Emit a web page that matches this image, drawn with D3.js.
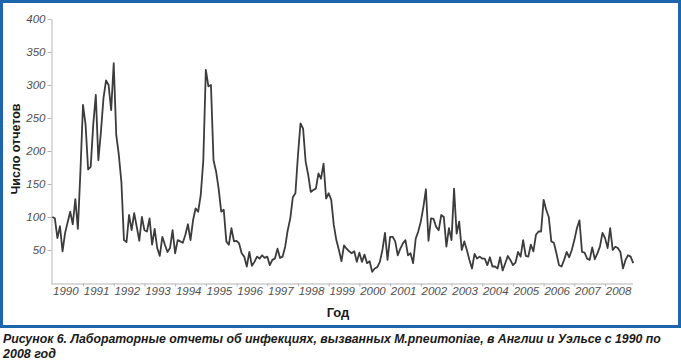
<!DOCTYPE html>
<html><head><meta charset="utf-8">
<script src="https://cdn.jsdelivr.net/npm/d3@7/dist/d3.min.js"></script>
<style>body{margin:0;background:#fff}svg{display:block}</style>
</head><body><svg id="c" width="681" height="360"></svg>
<script>
// Year tick labels (monthly data Jan 1990 .. Dec 2008)
const years = [1990,1991,1992,1993,1994,1995,1996,1997,1998,1999,2000,2001,2002,2003,2004,2005,2006,2007,2008];
const yTicks = [50,100,150,200,250,300,350,400];
const reports = [
 100,98,68,86,48,76,92,108,89,127,82,170,
 270,240,172,176,240,285,186,229,280,307,300,262,
 333,224,194,153,65,62,103,80,106,85,64,100,
 80,78,98,58,82,53,41,70,58,47,53,80,
 45,65,63,61,73,89,65,95,113,108,133,185,
 323,298,300,186,169,143,108,111,63,58,83,63,
 64,60,45,40,25,47,26,32,40,37,42,38,
 40,27,35,37,52,38,40,55,80,98,130,136,
 194,242,234,184,164,138,141,143,166,158,181,128,
 136,126,88,65,50,33,57,52,48,45,48,32,
 46,32,43,30,33,17,22,24,32,50,76,35,
 70,70,63,42,52,60,65,42,45,30,67,78,
 93,115,142,64,98,97,85,80,103,100,55,83,
 65,143,75,93,50,63,50,35,22,44,37,40,
 37,37,27,39,25,25,22,39,19,30,41,35,
 27,31,47,40,65,41,40,58,48,73,78,78,
 126,111,100,63,61,45,27,25,35,47,39,50,
 65,83,95,47,46,37,35,54,36,45,55,76,
 68,53,83,50,55,53,47,22,35,42,40,30
];
const yTitle = "Число отчетов";
const xTitle = "Год";
const caption1 = "Рисунок 6. Лабораторные отчеты об инфекциях, вызванных M.pneumoniae, в Англии и Уэльсе с 1990 по";
const caption2 = "2008 год";

const svg = d3.select("#c");
const FONT = "'Liberation Sans', Arial, sans-serif";

svg.append("rect").attr("x",1.5).attr("y",1.5).attr("width",678).attr("height",325)
  .attr("fill","#fff").attr("stroke","#1d66ad").attr("stroke-width",3);

const x = d3.scaleLinear().domain([0, reports.length - 1]).range([52.3, 633.2]);
const y = d3.scaleLinear().domain([0, 400]).range([283, 19]);

// Y axis
const gy = svg.append("g").attr("transform","translate(51.5,0)")
  .call(d3.axisLeft(y).tickValues(yTicks).tickSize(4).tickSizeOuter(0).tickPadding(2));
gy.select(".domain").attr("stroke","#b5b5b5");
gy.selectAll(".tick line").attr("stroke","#b5b5b5");
gy.selectAll(".tick text").attr("font-family",FONT).attr("font-size",11.5)
  .attr("font-style","italic").attr("fill","#505050");

// X axis (ticks at year boundaries)
const boundaries = years.slice(1).map(yr => (yr - years[0]) * 12);
const gx = svg.append("g").attr("transform","translate(0,283.5)")
  .call(d3.axisBottom(x).tickValues(boundaries).tickFormat("").tickSize(3).tickSizeOuter(0));
gx.select(".domain").attr("stroke","#b5b5b5").attr("d","M51,0.5H633");
gx.selectAll(".tick line").attr("stroke","#b5b5b5");

svg.append("g").selectAll("text").data(years).join("text")
  .attr("x", yr => x((yr - years[0]) * 12 + 5.3))
  .attr("y", 295)
  .attr("text-anchor","middle")
  .attr("font-family",FONT).attr("font-size",11.5).attr("font-style","italic")
  .attr("fill","#505050")
  .text(d => d);

// line
svg.append("path").datum(reports)
  .attr("fill","none").attr("stroke","#3c3c3c").attr("stroke-width",1.8)
  .attr("stroke-linejoin","round")
  .attr("d", d3.line().x((d,i) => x(i)).y(d => y(d)));

// titles
svg.append("text").attr("transform","translate(19.5,149) rotate(-90)")
  .attr("text-anchor","middle").attr("font-family",FONT).attr("font-weight","bold")
  .attr("font-size",12.5).attr("fill","#1a1a1a").text(yTitle);
svg.append("text").attr("x",338).attr("y",317).attr("text-anchor","middle")
  .attr("font-family",FONT).attr("font-weight","bold").attr("font-size",13)
  .attr("fill","#1a1a1a").text(xTitle);

// caption: condensed by horizontal scaling of a group
const CAPF = "'Liberation Sans Narrow','Arial Narrow','Liberation Sans',Arial,sans-serif";
function caption(txt, yPos, width) {
  const g = svg.append("g");
  const t = g.append("text").attr("x",0).attr("y",0)
    .attr("font-family",CAPF).attr("font-weight","bold").attr("font-style","italic")
    .attr("font-size",13.5).attr("fill","#1a1a1a").text(txt);
  const w = t.node().getComputedTextLength();
  const s = Math.min(1, width / w);
  g.attr("transform", `translate(3,${yPos}) scale(${s},1)`);
}
caption(caption1, 343, 658);
caption(caption2, 358, 53);
</script></body></html>
